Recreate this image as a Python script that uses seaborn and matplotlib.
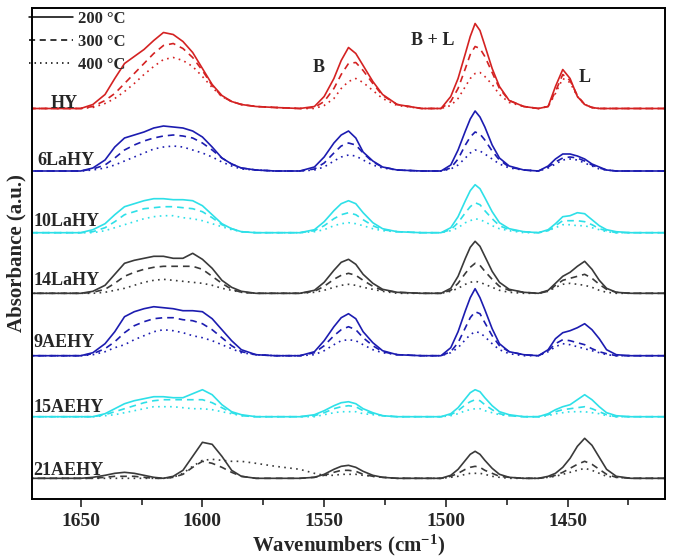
import numpy as np
import matplotlib
matplotlib.use("Agg")
import matplotlib.pyplot as plt
from matplotlib.lines import Line2D
from matplotlib.ticker import MultipleLocator
import seaborn as sns

sns.set_style("ticks")
plt.rcParams['font.family'] = ['Liberation Serif', 'DejaVu Serif']
plt.rcParams['font.weight'] = 'bold'
plt.rcParams['mathtext.default'] = 'regular'

# wavenumber grid (cm-1)
wavenumbers = [1670, 1660, 1650,
               1645, 1640, 1636, 1632, 1628, 1624, 1620, 1616, 1612, 1608, 1604, 1600, 1596, 1592, 1588, 1584, 1578, 1570, 1560,
               1554, 1550, 1546, 1543, 1540, 1537, 1534, 1530, 1526, 1520, 1510, 1502,
               1498, 1495, 1492, 1490, 1488, 1486, 1484, 1481, 1478, 1474, 1468, 1462,
               1458, 1455, 1452, 1449, 1446, 1443, 1440, 1437, 1434, 1430, 1424, 1410]

# absorbance (arbitrary units), 200 / 300 / 400 °C
hy_200 = [0, 0, 0,
          4, 14, 30, 45, 52, 59, 68, 76, 74, 67, 56, 40, 24, 13, 7, 4, 2, 1, 0,
          2, 12, 30, 48, 61, 55, 43, 27, 14, 4, 0, 0,
          12, 30, 55, 72, 85, 78, 63, 40, 22, 8, 2, 0,
          2, 22, 39, 30, 12, 4, 1, 0, 0, 0, 0, 0]
hy_300 = [0, 0, 0,
          2, 8, 15, 25, 35, 45, 55, 63, 65, 60, 51, 38, 23, 12, 7, 4, 2, 1, 0,
          1, 7, 20, 34, 45, 46, 38, 25, 13, 4, 0, 0,
          7, 20, 40, 54, 62, 60, 52, 36, 20, 8, 2, 0,
          2, 17, 34, 28, 13, 4, 1, 0, 0, 0, 0, 0]
hy_400 = [0, 0, 0,
          1, 5, 10, 17, 25, 34, 42, 49, 51, 48, 42, 32, 21, 12, 7, 4, 2, 1, 0,
          0, 3, 10, 20, 27, 30, 26, 18, 10, 3, 0, 0,
          3, 10, 22, 30, 35, 36, 32, 24, 14, 6, 2, 0,
          2, 15, 30, 26, 12, 4, 1, 0, 0, 0, 0, 0]

la6_200 = [0, 0, 0,
           3, 11, 24, 33, 36, 39, 43, 45, 44, 43, 40, 34, 24, 13, 7, 3, 1, 0, 0,
           4, 14, 28, 36, 40, 33, 19, 10, 4, 1, 0, 0,
           6, 21, 40, 52, 60, 54, 44, 26, 13, 5, 1, 0,
           5, 12, 17, 17, 15, 12, 7, 4, 1, 0, 0, 0]
la6_300 = [0, 0, 0,
           2, 6, 13, 21, 26, 30, 33, 35, 36, 35, 33, 28, 21, 13, 7, 3, 1, 0, 0,
           2, 8, 18, 25, 28, 26, 18, 9, 4, 1, 0, 0,
           3, 12, 26, 34, 39, 37, 31, 20, 11, 4, 1, 0,
           4, 9, 13, 14, 13, 10, 6, 3, 1, 0, 0, 0]
la6_400 = [0, 0, 0,
           1, 3, 6, 10, 14, 18, 22, 24, 25, 24, 21, 18, 14, 9, 5, 2, 1, 0, 0,
           1, 4, 10, 14, 16, 15, 11, 6, 3, 1, 0, 0,
           2, 6, 13, 18, 21, 20, 17, 12, 7, 3, 1, 0,
           3, 7, 11, 12, 11, 8, 5, 2, 1, 0, 0, 0]

la10_200 = [0, 0, 0,
            3, 9, 18, 26, 29, 32, 34, 34, 33, 33, 32, 27, 18, 9, 4, 1, 0, 0, 0,
            3, 11, 22, 29, 32, 29, 20, 10, 4, 1, 0, 0,
            5, 16, 32, 42, 48, 44, 35, 21, 10, 4, 1, 0,
            3, 9, 16, 17, 20, 19, 13, 7, 3, 1, 0, 0]
la10_300 = [0, 0, 0,
            1, 5, 11, 18, 21, 24, 25, 26, 26, 25, 24, 21, 15, 8, 4, 1, 0, 0, 0,
            2, 7, 14, 18, 20, 18, 13, 7, 3, 1, 0, 0,
            3, 10, 20, 26, 30, 28, 22, 14, 7, 3, 1, 0,
            2, 7, 12, 12, 12, 11, 8, 4, 2, 0, 0, 0]
la10_400 = [0, 0, 0,
            0, 2, 5, 8, 11, 14, 16, 17, 17, 15, 14, 12, 9, 6, 3, 1, 0, 0, 0,
            1, 3, 7, 9, 10, 9, 7, 4, 2, 1, 0, 0,
            2, 5, 10, 12, 14, 13, 11, 7, 4, 2, 0, 0,
            2, 5, 8, 8, 7, 7, 5, 3, 1, 0, 0, 0]

la14_200 = [0, 0, 0,
            2, 8, 19, 30, 33, 35, 37, 37, 35, 35, 40, 34, 25, 13, 6, 2, 0, 0, 0,
            3, 11, 23, 31, 34, 29, 19, 10, 4, 1, 0, 0,
            5, 17, 35, 46, 52, 47, 37, 22, 11, 4, 1, 0,
            3, 10, 17, 21, 27, 32, 24, 13, 5, 1, 0, 0]
la14_300 = [0, 0, 0,
            1, 4, 10, 17, 21, 24, 26, 27, 27, 27, 27, 24, 17, 10, 4, 1, 0, 0, 0,
            2, 7, 14, 18, 20, 18, 13, 7, 3, 1, 0, 0,
            3, 10, 20, 26, 30, 28, 22, 14, 7, 3, 1, 0,
            2, 8, 13, 15, 17, 19, 15, 9, 4, 1, 0, 0]
la14_400 = [0, 0, 0,
            0, 1, 3, 5, 8, 11, 13, 14, 13, 12, 11, 10, 8, 5, 3, 1, 0, 0, 0,
            1, 3, 6, 8, 9, 8, 6, 4, 2, 0, 0, 0,
            2, 5, 9, 11, 12, 11, 9, 6, 3, 1, 0, 0,
            2, 6, 9, 10, 9, 8, 6, 3, 1, 0, 0, 0]

ae9_200 = [0, 0, 0,
           3, 12, 24, 39, 44, 47, 49, 48, 47, 45, 45, 44, 37, 26, 15, 6, 1, 0, 0,
           4, 15, 29, 38, 42, 37, 24, 13, 5, 1, 0, 0,
           8, 24, 45, 58, 67, 58, 46, 27, 12, 4, 1, 0,
           6, 17, 23, 25, 28, 32, 26, 17, 6, 1, 0, 0]
ae9_300 = [0, 0, 0,
           2, 7, 14, 23, 30, 34, 37, 38, 38, 36, 35, 32, 26, 18, 10, 4, 1, 0, 0,
           3, 10, 20, 26, 29, 26, 18, 10, 4, 1, 0, 0,
           4, 13, 28, 38, 44, 42, 33, 20, 10, 4, 1, 0,
           5, 12, 16, 15, 13, 11, 7, 4, 2, 0, 0, 0]
ae9_400 = [0, 0, 0,
           1, 4, 8, 11, 16, 20, 24, 26, 25, 23, 20, 18, 15, 11, 7, 3, 1, 0, 0,
           1, 5, 11, 15, 16, 15, 11, 6, 3, 1, 0, 0,
           3, 8, 16, 21, 24, 23, 19, 12, 6, 2, 0, 0,
           4, 9, 12, 11, 9, 7, 5, 3, 1, 0, 0, 0]

ae15_200 = [0, 0, 0,
            0, 3, 8, 13, 16, 18, 20, 20, 19, 19, 23, 27, 22, 12, 5, 2, 0, 0, 0,
            2, 6, 11, 14, 15, 13, 8, 4, 1, 0, 0, 0,
            3, 9, 18, 24, 27, 25, 19, 11, 5, 2, 0, 0,
            3, 7, 10, 12, 17, 22, 17, 10, 4, 1, 0, 0]
ae15_300 = [0, 0, 0,
            0, 2, 5, 8, 11, 14, 16, 17, 17, 17, 17, 17, 14, 9, 4, 1, 0, 0, 0,
            1, 4, 8, 10, 11, 10, 6, 3, 1, 0, 0, 0,
            2, 6, 12, 15, 17, 16, 12, 7, 3, 1, 0, 0,
            2, 5, 7, 8, 9, 10, 8, 5, 2, 0, 0, 0]
ae15_400 = [0, 0, 0,
            0, 1, 2, 4, 6, 8, 10, 10, 10, 9, 8, 8, 7, 5, 3, 1, 0, 0, 0,
            0, 2, 4, 5, 5, 5, 3, 2, 1, 0, 0, 0,
            1, 3, 6, 7, 8, 8, 6, 4, 2, 1, 0, 0,
            1, 3, 4, 5, 5, 5, 4, 3, 1, 0, 0, 0]

ae21_200 = [0, 0, 0,
            1, 3, 5, 6, 5, 3, 1, 0, 2, 8, 22, 36, 34, 22, 8, 2, 0, 0, 0,
            1, 4, 9, 12, 13, 11, 7, 3, 1, 0, 0, 0,
            3, 9, 18, 24, 27, 24, 18, 10, 4, 1, 0, 0,
            2, 5, 11, 20, 32, 40, 33, 21, 9, 2, 0, 0]
ae21_300 = [0, 0, 0,
            0, 1, 2, 2, 2, 1, 0, 0, 1, 4, 11, 17, 15, 11, 6, 2, 0, 0, 0,
            1, 3, 6, 8, 8, 7, 4, 2, 1, 0, 0, 0,
            2, 5, 9, 11, 12, 11, 8, 5, 2, 1, 0, 0,
            1, 3, 6, 10, 14, 17, 14, 9, 4, 1, 0, 0]
ae21_400 = [0, 0, 0,
            0, 0, 0, 0, 0, 0, 0, 0, 1, 5, 12, 18, 19, 18, 17, 17, 15, 12, 9,
            5, 3, 3, 4, 4, 4, 3, 2, 1, 0, 0, 0,
            1, 2, 4, 5, 5, 5, 4, 2, 1, 0, 0, 0,
            1, 2, 4, 6, 8, 10, 8, 5, 2, 1, 0, 0]

samples = ["HY", "6LaHY", "10LaHY", "14LaHY", "9AEHY", "15AEHY", "21AEHY"]
temps = ["200 °C", "300 °C", "400 °C"]
spectra = [(hy_200, hy_300, hy_400),
           (la6_200, la6_300, la6_400),
           (la10_200, la10_300, la10_400),
           (la14_200, la14_300, la14_400),
           (ae9_200, ae9_300, ae9_400),
           (ae15_200, ae15_300, ae15_400),
           (ae21_200, ae21_300, ae21_400)]
# vertical stacking offsets
offsets = [390.5, 328, 266.3, 205.7, 143.3, 82.3, 20.7]

colors = ["#d42222", "#1c1cb0", "#2ee0e8", "#3a3a3a", "#1c1cb0", "#2ee0e8", "#3a3a3a"]
styles = ["-", (0, (4, 3)), (0, (1, 2.6))]

fig = plt.figure(figsize=(6.75, 5.59), dpi=100)
ax = fig.add_axes([0.0474, 0.1073, 0.9378, 0.8784])

x = np.array(wavenumbers)
for name, curves, off, col in zip(samples, spectra, offsets, colors):
    for vals, ls in zip(curves, styles):
        sns.lineplot(x=x, y=np.array(vals) + off, ax=ax, color=col, lw=1.2,
                     linestyle=ls, legend=False)

# sample labels
label_y = [391, 334, 273, 214, 152, 87, 24]
label_x = [1662.5, 1667.8, 1669.4, 1669.4, 1669.4, 1669.4, 1669.4]
for name, lx, ly in zip(samples, label_x, label_y):
    ax.text(lx, ly, name, fontsize=13, fontweight='bold', ha='left', va='baseline')

ax.text(1554.7, 427, "B", fontsize=13, fontweight='bold', va='baseline')
ax.text(1514.5, 454, "B + L", fontsize=13, fontweight='bold', va='baseline')
ax.text(1445.4, 417, "L", fontsize=13, fontweight='bold', va='baseline')

handles = [Line2D([], [], color='black', lw=1.1, linestyle=s) for s in styles]
ax.legend(handles, temps, loc='upper left', bbox_to_anchor=(-0.012, 1.005), frameon=False,
          borderaxespad=0.2, borderpad=0.1, handlelength=2.6, handletextpad=0.3,
          labelspacing=0.42, prop={'weight': 'bold', 'size': 12})

ax.set_xlim(1670, 1410)
ax.set_ylim(0, 491)
major = [1650, 1600, 1550, 1500, 1450]
ax.set_xticks(major)
ax.set_xticklabels([str(m) for m in major], fontsize=14, fontweight='bold')
ax.xaxis.set_minor_locator(MultipleLocator(25))
ax.tick_params(axis='x', which='major', direction='out', length=6, width=1.2, pad=4)
ax.tick_params(axis='x', which='minor', direction='out', length=4, width=1.2)
ax.set_yticks([])
for sp in ax.spines.values():
    sp.set_visible(True)
    sp.set_linewidth(1.4)
    sp.set_color('black')

ax.set_xlabel("Wavenumbers (cm$^{-1}$)", fontsize=15, fontweight='bold', labelpad=2)
ax.set_ylabel("Absorbance (a.u.)", fontsize=15, fontweight='bold', labelpad=4)

fig.savefig("out.png", dpi=100)
